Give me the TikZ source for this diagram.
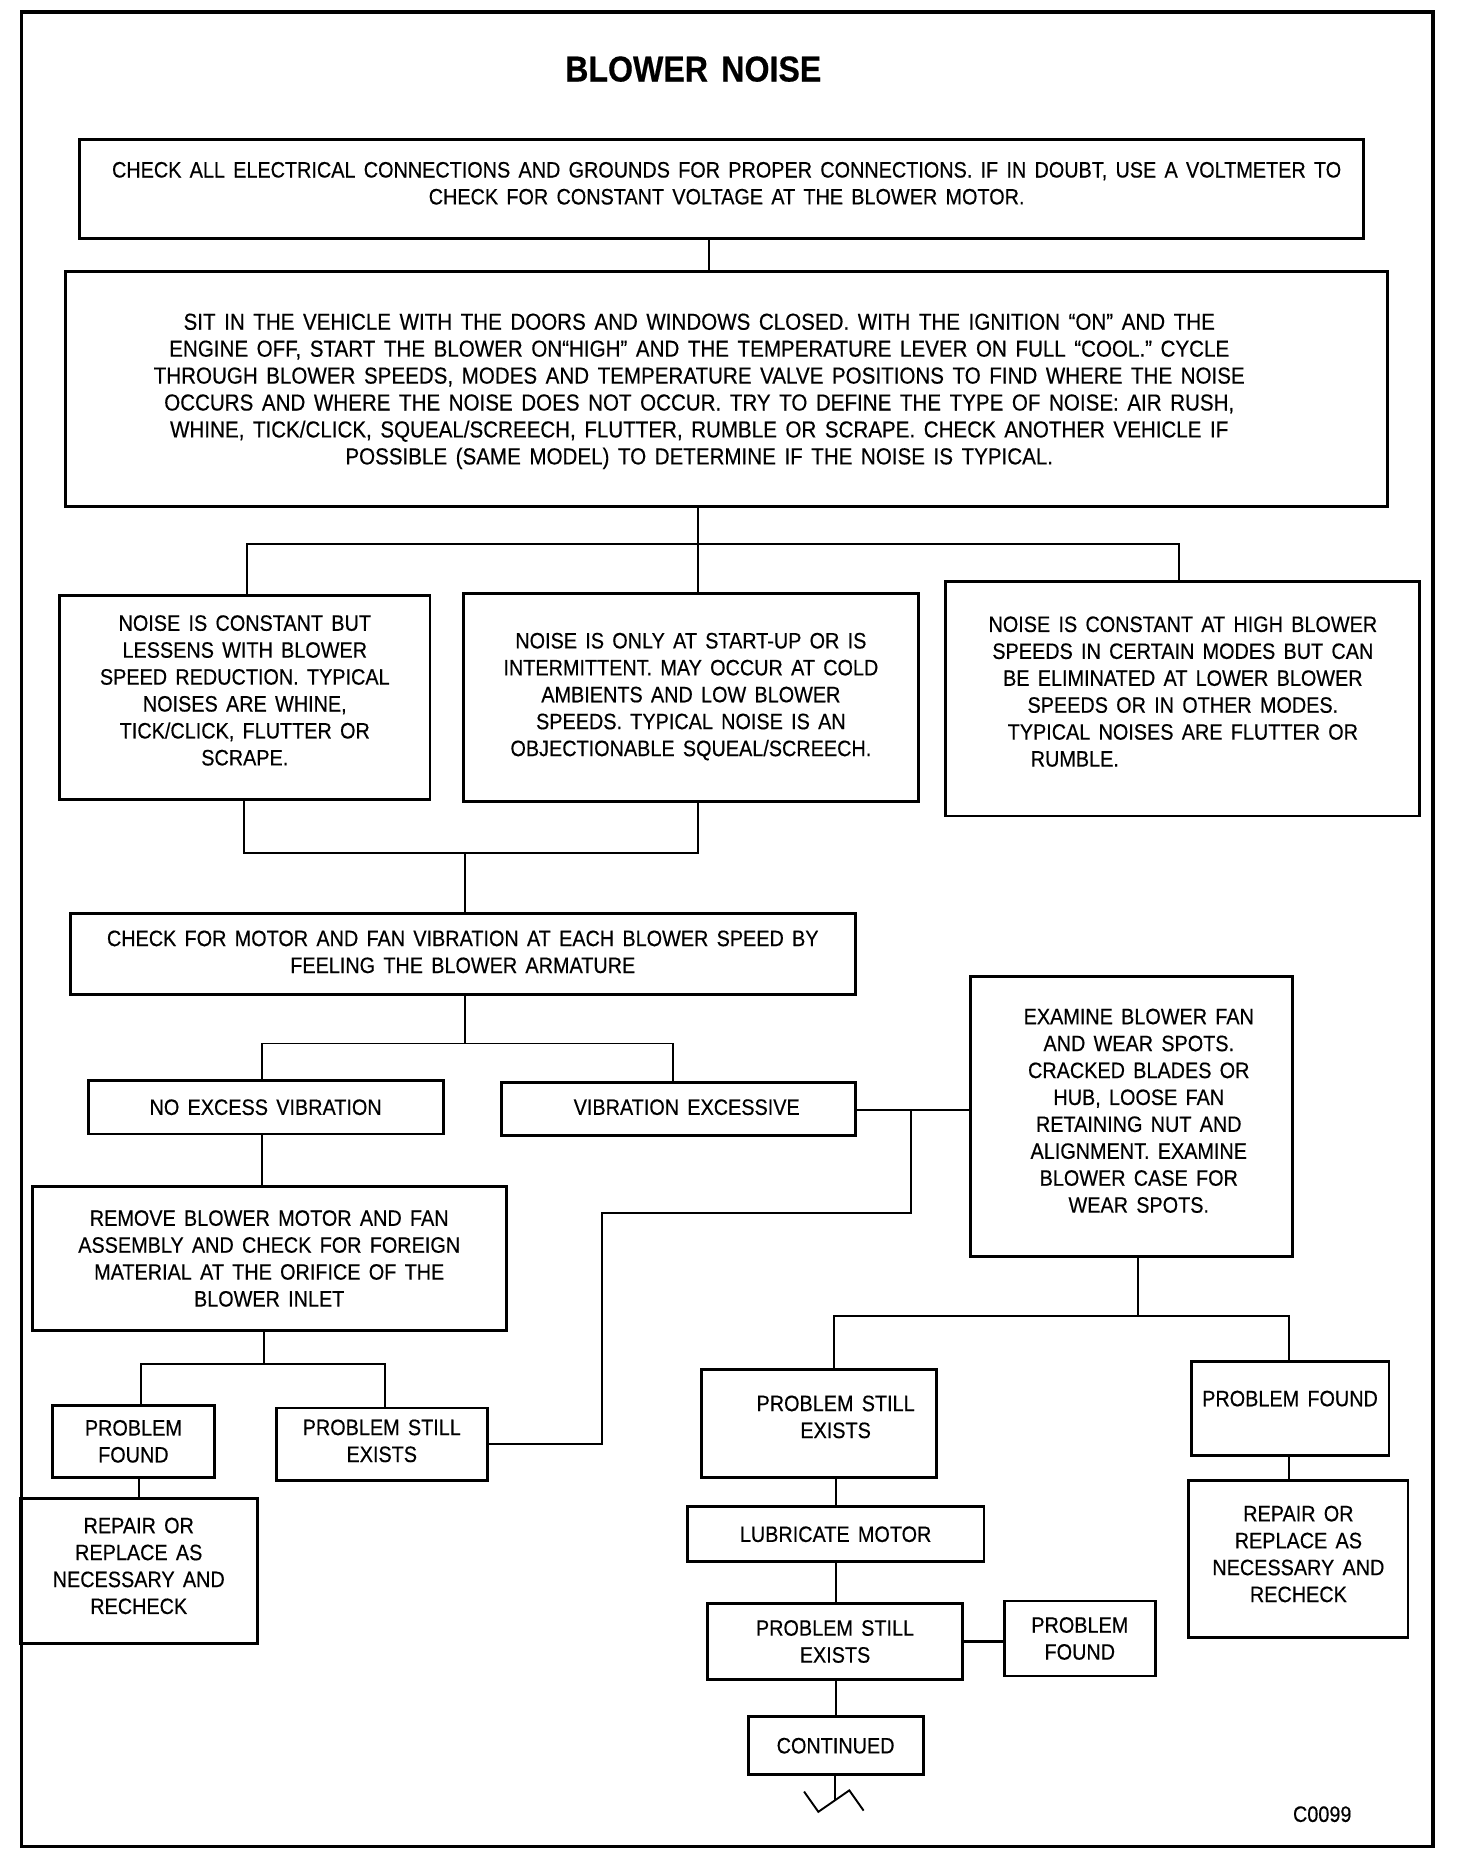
\documentclass[tikz,border=0pt]{standalone}
\usepackage{fontspec}
\setmainfont{Liberation Sans}[FakeStretch=0.89, WordSpace=1.5, FakeBold=0.4]
\newcommand{\shl}[2]{\begin{tabular}[b]{@{}c@{\hspace{#1}}}#2\end{tabular}}
\newcommand{\shr}[2]{\begin{tabular}[b]{@{\hspace{#1}}c@{}}#2\end{tabular}}
\begin{document}
\begin{tikzpicture}[x=1pt,y=-1pt,
  bx/.style={draw, line width=2.4pt, inner sep=0pt, align=center, font=\fontsize{18.7}{22.6}\selectfont},
  ln/.style={line width=1.6pt},
  tup/.style={text depth=#1},
  lbl/.style={inner sep=0pt, font=\fontsize{18.7}{22.6}\selectfont}]
\newcommand{\mkbox}[7]{\node[bx, #1, minimum width={(#5)-(#3)}, minimum height={(#6)-(#4)}] (#2) at ({((#3)+(#5))/2},{((#4)+(#6))/2}) {#7};}
\fill[white] (0,0) rectangle (1222.8,1566.5);
\useasboundingbox (0,0) rectangle (1222.8,1566.5);
\draw[line width=2.8pt] (18,10) rectangle (1203,1550);
\node[inner sep=0pt, font=\bfseries\fontsize{30.3}{34}\selectfont] (title) at (582,58) {BLOWER NOISE};

\mkbox{tup=12.2pt}{b1}{67}{117}{1145}{200}{\shr{8pt}{CHECK ALL ELECTRICAL CONNECTIONS AND GROUNDS FOR PROPER CONNECTIONS. IF IN DOUBT, USE A VOLTMETER TO\\CHECK FOR CONSTANT VOLTAGE AT THE BLOWER MOTOR.}}
\mkbox{font=\fontsize{19.4}{22.6}\selectfont, tup=2.2pt}{b2}{55}{228}{1165}{425}{\shl{46pt}{SIT IN THE VEHICLE WITH THE DOORS AND WINDOWS CLOSED. WITH THE IGNITION “ON” AND THE\\ENGINE OFF, START THE BLOWER ON“HIGH” AND THE TEMPERATURE LEVER ON FULL “COOL.” CYCLE\\THROUGH BLOWER SPEEDS, MODES AND TEMPERATURE VALVE POSITIONS TO FIND WHERE THE NOISE\\OCCURS AND WHERE THE NOISE DOES NOT OCCUR. TRY TO DEFINE THE TYPE OF NOISE: AIR RUSH,\\WHINE, TICK/CLICK, SQUEAL/SCREECH, FLUTTER, RUMBLE OR SCRAPE. CHECK ANOTHER VEHICLE IF\\POSSIBLE (SAME MODEL) TO DETERMINE IF THE NOISE IS TYPICAL.}}
\mkbox{tup=12pt}{b3a}{50}{500}{361}{671}{NOISE IS CONSTANT BUT\\LESSENS WITH BLOWER\\SPEED REDUCTION. TYPICAL\\NOISES ARE WHINE,\\TICK/CLICK, FLUTTER OR\\SCRAPE.}
\mkbox{tup=5pt}{b3b}{389}{498}{771}{673}{NOISE IS ONLY AT START-UP OR IS\\INTERMITTENT. MAY OCCUR AT COLD\\AMBIENTS AND LOW BLOWER\\SPEEDS. TYPICAL NOISE IS AN\\OBJECTIONABLE SQUEAL/SCREECH.}
\mkbox{tup=12pt}{b3c}{794}{488}{1192}{685}{NOISE IS CONSTANT AT HIGH BLOWER\\SPEEDS IN CERTAIN MODES BUT CAN\\BE ELIMINATED AT LOWER BLOWER\\SPEEDS OR IN OTHER MODES.\\TYPICAL NOISES ARE FLUTTER OR\\RUMBLE.\hspace*{9.7em}}
\mkbox{tup=4pt}{b4}{59}{767}{718}{835}{CHECK FOR MOTOR AND FAN VIBRATION AT EACH BLOWER SPEED BY\\FEELING THE BLOWER ARMATURE}
\mkbox{}{b5a}{74}{907}{372}{952}{NO EXCESS VIBRATION}
\mkbox{tup=6pt}{b5b}{421}{909}{718}{953}{\shr{14pt}{VIBRATION EXCESSIVE}}
\mkbox{tup=13pt}{b6}{815}{820}{1085}{1055}{\shr{12pt}{EXAMINE BLOWER FAN\\AND WEAR SPOTS.\\CRACKED BLADES OR\\HUB, LOOSE FAN\\RETAINING NUT AND\\ALIGNMENT. EXAMINE\\BLOWER CASE FOR\\WEAR SPOTS.}}
\mkbox{}{b7}{27}{996}{425}{1117}{REMOVE BLOWER MOTOR AND FAN\\ASSEMBLY AND CHECK FOR FOREIGN\\MATERIAL AT THE ORIFICE OF THE\\BLOWER INLET}
\mkbox{}{b8a}{44}{1180}{180}{1240}{PROBLEM\\FOUND}
\mkbox{tup=6pt}{b8b}{232}{1182}{409}{1243}{PROBLEM STILL\\EXISTS}
\mkbox{tup=9pt}{b9}{17}{1258}{216}{1380}{REPAIR OR\\REPLACE AS\\NECESSARY AND\\RECHECK}
\mkbox{tup=14pt}{b10}{589}{1150}{786}{1240}{\shr{28pt}{PROBLEM STILL\\EXISTS}}
\mkbox{tup=17pt}{b11}{1000}{1143}{1166}{1222}{PROBLEM FOUND}
\mkbox{tup=9pt}{b12}{998}{1243}{1182}{1375}{REPAIR OR\\REPLACE AS\\NECESSARY AND\\RECHECK}
\mkbox{}{b13}{577}{1265}{826}{1311}{LUBRICATE MOTOR}
\mkbox{}{b14}{594}{1346}{808}{1410}{PROBLEM STILL\\EXISTS}
\mkbox{}{b15}{843}{1344}{970}{1407}{PROBLEM\\FOUND}
\mkbox{}{b16}{628}{1441}{775}{1490}{CONTINUED}

\node[lbl] (code) at (1110,1523) {C0099};

% connectors
\coordinate (c1) at (595,0);
\draw[ln] (b1.south -| c1) -- (b2.north -| c1);
\coordinate (h1) at (586,457);
\coordinate (h1l) at (207,457);
\coordinate (h1r) at (990,457);
\draw[ln] (b2.south -| h1) -- (h1);
\draw[ln] (b3a.north -| h1l) -- (h1l) -- (h1r) -- (b3c.north -| h1r);
\draw[ln] (h1) -- (b3b.north -| h1);
\coordinate (h2l) at (205,716);
\coordinate (h2r) at (586,716);
\coordinate (h2m) at (390,716);
\draw[ln] (b3a.south -| h2l) -- (h2l) -- (h2r) -- (b3b.south -| h2r);
\draw[ln] (h2m) -- (b4.north -| h2m);
\coordinate (h3m) at (390,876);
\coordinate (h3l) at (220,876);
\coordinate (h3r) at (565,876);
\draw[ln] (b4.south -| h3m) -- (h3m);
\draw[ln] (b5a.north -| h3l) -- (h3l) -- (h3r) -- (b5b.north -| h3r);
\coordinate (v1) at (765,932);
\coordinate (v2) at (765,1018);
\coordinate (v3) at (505,1018);
\draw[ln] (b5b.east |- v1) -- (b6.west |- v1);
\draw[ln] (v1) -- (v2) -- (v3) -- (v3 |- b8b.east) -- (b8b.east);
\coordinate (c5) at (220,0);
\draw[ln] (b5a.south -| c5) -- (b7.north -| c5);
\coordinate (h4m) at (222,1145);
\coordinate (h4l) at (118,1145);
\coordinate (h4r) at (323,1145);
\draw[ln] (b7.south -| h4m) -- (h4m);
\draw[ln] (b8a.north -| h4l) -- (h4l) -- (h4r) -- (b8b.north -| h4r);
\coordinate (c8) at (117,0);
\draw[ln] (b8a.south -| c8) -- (b9.north -| c8);
\coordinate (h5m) at (955,1105);
\coordinate (h5l) at (700,1105);
\coordinate (h5r) at (1082,1105);
\draw[ln] (b6.south -| h5m) -- (h5m);
\draw[ln] (b10.north -| h5l) -- (h5l) -- (h5r) -- (b11.north -| h5r);
\draw[ln] (b11.south -| h5r) -- (b12.north -| h5r);
\coordinate (c10) at (702,0);
\draw[ln] (b10.south -| c10) -- (b13.north -| c10);
\draw[ln] (b13.south -| c10) -- (b14.north -| c10);
\draw[ln] (b14.south -| c10) -- (b16.north -| c10);
\draw[line width=2.8pt] (b14.east) -- (b15.west |- b14.east);
% break symbol
\coordinate (z0) at (701,1512);
\coordinate (z1) at (675,1504);
\coordinate (z2) at (687,1521);
\coordinate (z3) at (713,1503);
\coordinate (z4) at (725,1520);
\draw[ln] (b16.south -| z0) -- (z0);
\draw[ln, line join=miter] (z1) -- (z2) -- (z3) -- (z4);
\end{tikzpicture}
\end{document}
